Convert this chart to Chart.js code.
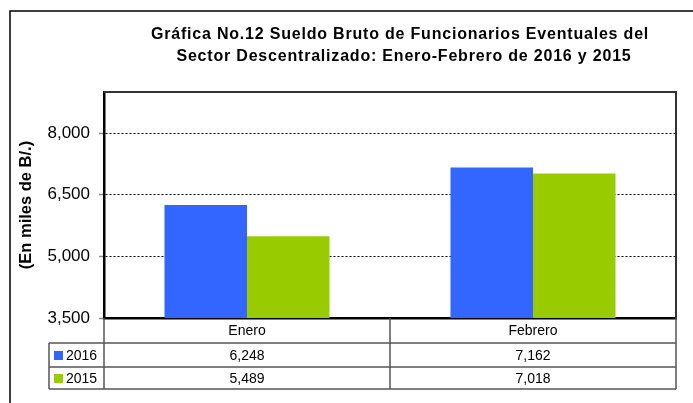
<!DOCTYPE html>
<html>
<head>
<meta charset="utf-8">
<script src="https://cdn.jsdelivr.net/npm/chart.js@4.4.0/dist/chart.umd.min.js"></script>
<style>
  html, body { margin: 0; padding: 0; background: #fff; }
  #wrap { width: 693px; height: 403px; position: relative; }
</style>
</head>
<body>
<div id="wrap"><canvas id="sueldoChart" width="693" height="403"></canvas></div>
<script>
// Chart data
const meses = ['Enero', 'Febrero'];
const series = ['2016', '2015'];
const valores2016 = [6248, 7162];
const valores2015 = [5489, 7018];
const yTicks = [3500, 5000, 6500, 8000];
const titulo = [
    'Gráfica No.12 Sueldo Bruto de Funcionarios Eventuales del',
    'Sector Descentralizado: Enero-Febrero de 2016 y 2015'
];

const colores = ['#3366FF', '#99CC00'];
const FONT = '"Liberation Sans", Arial, sans-serif';
const fmt = v => v.toLocaleString('en-US');

// Draws the outer frame, the title, the plot border and the data table
const tablaPlugin = {
    id: 'tabla',
    afterDraw(chart) {
        const ctx = chart.ctx;
        const area = chart.chartArea;
        const xScale = chart.scales.x;

        ctx.save();

        // Outer frame (only top and left edges are visible)
        ctx.strokeStyle = '#000';
        ctx.lineWidth = 1.5;
        ctx.beginPath();
        ctx.moveTo(10, 403);
        ctx.lineTo(10, 11);
        ctx.lineTo(693, 11);
        ctx.stroke();

        // Title
        ctx.fillStyle = '#000';
        ctx.font = 'bold 16px ' + FONT;
        ctx.textAlign = 'center';
        ctx.textBaseline = 'middle';
        ctx.letterSpacing = '0.8px';
        ctx.fillText(titulo[0], 400, 35);
        ctx.fillText(titulo[1], 404, 57);
        ctx.letterSpacing = '0px';

        // Top and right edges of the plot area
        ctx.strokeStyle = '#333';
        ctx.lineWidth = 2;
        ctx.beginPath();
        ctx.moveTo(area.left, area.top);
        ctx.lineTo(area.right, area.top);
        ctx.lineTo(area.right, area.bottom);
        ctx.stroke();

        // Data table under the plot
        const half = (xScale.getPixelForValue(1) - xScale.getPixelForValue(0)) / 2;
        const cols = [area.left];
        meses.forEach((m, i) => cols.push(xScale.getPixelForValue(i) + half));
        const legendLeft = 49;
        const rows = [area.bottom, area.bottom + 25, area.bottom + 49, area.bottom + 71];

        ctx.strokeStyle = '#555';
        ctx.lineWidth = 1.5;
        ctx.beginPath();
        for (let r = 1; r < rows.length; r++) {
            ctx.moveTo(legendLeft, rows[r]);
            ctx.lineTo(area.right, rows[r]);
        }
        cols.forEach(cx => {
            ctx.moveTo(cx, area.bottom);
            ctx.lineTo(cx, rows[3]);
        });
        ctx.moveTo(legendLeft, rows[1]);
        ctx.lineTo(legendLeft, rows[3]);
        ctx.stroke();

        ctx.fillStyle = '#000';
        ctx.font = '14px ' + FONT;
        ctx.textAlign = 'center';
        ctx.textBaseline = 'middle';
        meses.forEach((m, i) => {
            const cx = xScale.getPixelForValue(i);
            ctx.fillText(m, cx, (rows[0] + rows[1]) / 2 + 1);
        });

        chart.data.datasets.forEach((ds, d) => {
            const cy = (rows[d + 1] + rows[d + 2]) / 2 + 1;
            ds.data.forEach((v, i) => {
                ctx.fillStyle = '#000';
                ctx.textAlign = 'center';
                ctx.fillText(fmt(v), xScale.getPixelForValue(i), cy);
            });
            ctx.fillStyle = ds.backgroundColor;
            ctx.fillRect(54, cy - 5, 9, 9);
            ctx.fillStyle = '#000';
            ctx.textAlign = 'left';
            ctx.fillText(ds.label, 66, cy);
        });

        ctx.restore();
    }
};

new Chart(document.getElementById('sueldoChart'), {
    type: 'bar',
    data: {
        labels: meses,
        datasets: [
            { label: series[0], data: valores2016, backgroundColor: colores[0] },
            { label: series[1], data: valores2015, backgroundColor: colores[1] }
        ]
    },
    options: {
        responsive: false,
        animation: false,
        events: [],
        layout: { padding: { left: 10, right: 17, top: 92, bottom: 85 } },
        datasets: {
            bar: { categoryPercentage: 0.577, barPercentage: 1.0, borderWidth: 0 }
        },
        plugins: {
            legend: { display: false },
            title: { display: false },
            tooltip: { enabled: false }
        },
        scales: {
            x: {
                ticks: { display: false },
                grid: { display: false, drawTicks: false },
                border: { display: true, color: '#000', width: 2.5 }
            },
            y: {
                min: 3500,
                max: 9000,
                afterBuildTicks: scale => {
                    scale.ticks = yTicks.map(v => ({ value: v }));
                },
                afterFit: scale => { scale.width = 94; },
                ticks: {
                    color: '#000',
                    padding: 9,
                    font: { family: FONT, size: 17 },
                    callback: v => fmt(v)
                },
                grid: {
                    color: ctx => (ctx.tick && ctx.tick.value === 3500 ? 'rgba(0,0,0,0)' : '#000'),
                    lineWidth: 1,
                    tickColor: '#888',
                    tickLength: 5,
                    tickWidth: 1.5
                },
                border: { display: true, color: '#000', width: 2.5, dash: [2, 2] },
                title: {
                    display: true,
                    text: '(En miles de B/.)',
                    color: '#000',
                    font: { family: FONT, size: 16.5, weight: 'bold' },
                    padding: { top: 7, bottom: 0 }
                }
            }
        }
    },
    plugins: [tablaPlugin]
});
</script>
</body>
</html>
